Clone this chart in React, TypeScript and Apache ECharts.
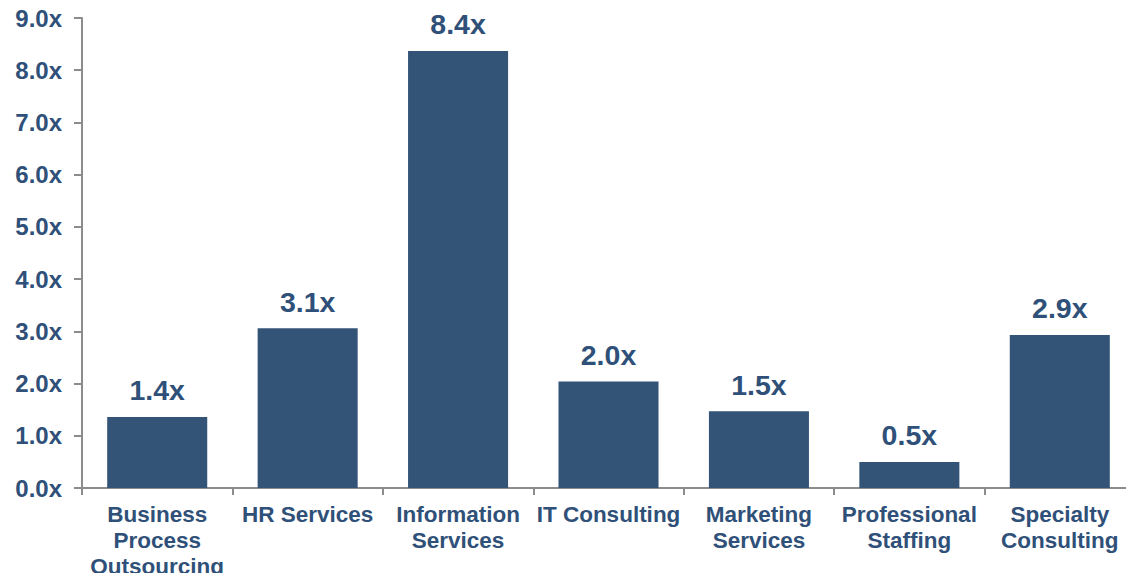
import React, { useEffect, useRef } from "react";
import * as echarts from "echarts";

const categories = [
  "Business\nProcess\nOutsourcing",
  "HR Services",
  "Information\nServices",
  "IT Consulting",
  "Marketing\nServices",
  "Professional\nStaffing",
  "Specialty\nConsulting",
];
const values = [1.36, 3.06, 8.37, 2.04, 1.47, 0.5, 2.93];
const yTicks = [0, 1, 2, 3, 4, 5, 6, 7, 8, 9];

const TEXT = "#2f5078";
const BAR = "#335377";
const AXIS = "#8c8c8c";
const FONT = "'Liberation Sans', Arial, sans-serif";

export default function App() {
  const ref = useRef<HTMLDivElement>(null);
  useEffect(() => {
    if (!ref.current) return;
    const chart = echarts.init(ref.current, undefined, { renderer: "svg" });
    chart.setOption({
      animation: false,
      grid: {
        left: 82,
        top: 18,
        width: 1053,
        height: 470,
        containLabel: false,
        outerBoundsMode: "none",
      },
      xAxis: {
        type: "category",
        data: categories,
        axisLine: { lineStyle: { color: AXIS, width: 2 } },
        axisTick: { show: true, length: 7, alignWithLabel: false, lineStyle: { color: AXIS, width: 2 } },
        axisLabel: {
          interval: 0,
          margin: 13,
          color: TEXT,
          fontFamily: FONT,
          fontWeight: "bold",
          fontSize: 22.5,
          lineHeight: 26,
        },
      },
      yAxis: {
        type: "value",
        min: yTicks[0],
        max: yTicks[yTicks.length - 1],
        interval: 1,
        splitLine: { show: false },
        axisLine: { show: true, lineStyle: { color: AXIS, width: 2 } },
        axisTick: { show: true, length: 8, lineStyle: { color: AXIS, width: 2 } },
        axisLabel: {
          margin: 20,
          color: TEXT,
          fontFamily: FONT,
          fontWeight: "bold",
          fontSize: 24,
          formatter: (v: number) => v.toFixed(1) + "x",
        },
      },
      series: [
        {
          type: "bar",
          data: values,
          barWidth: "66.5%",
          itemStyle: { color: BAR },
          label: {
            show: true,
            position: "top",
            distance: 12,
            color: TEXT,
            fontFamily: FONT,
            fontWeight: "bold",
            fontSize: 28.5,
            formatter: (p: any) => Number(p.value).toFixed(1) + "x",
          },
        },
      ],
    });
    return () => chart.dispose();
  }, []);
  return (
    <div
      ref={ref}
      style={{ position: "absolute", left: 0, top: 0, width: 1126, height: 573, background: "#fff" }}
    />
  );
}
